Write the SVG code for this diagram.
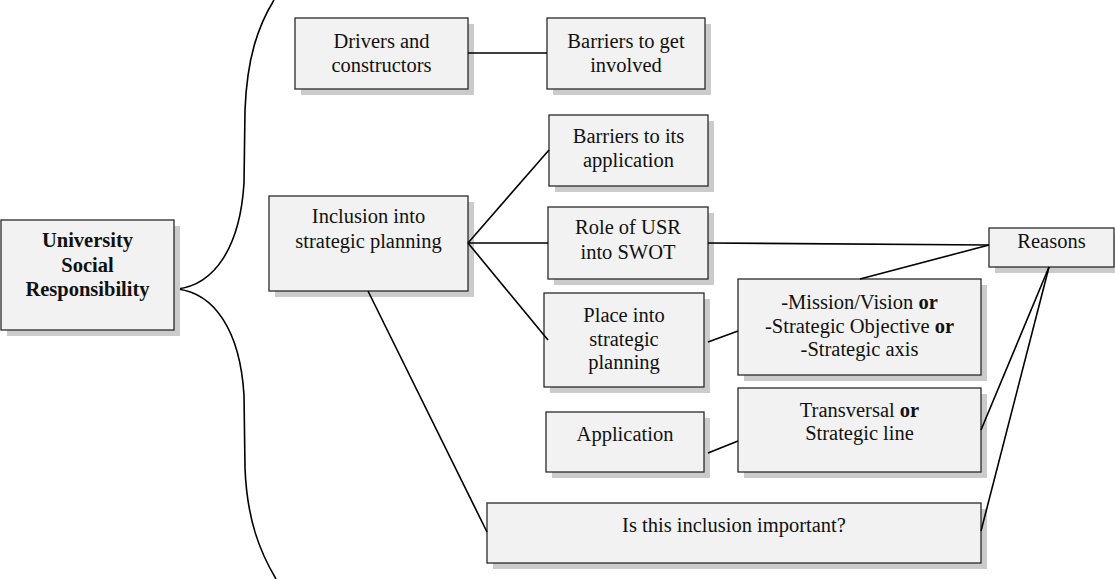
<svg xmlns="http://www.w3.org/2000/svg" width="1115" height="579" viewBox="0 0 1115 579">
<style>
.sh{fill:#cbcbcb;stroke:none}
.bx{fill:#f2f2f2;stroke:#2a2a2a;stroke-width:1.3}
text{font-family:'Liberation Serif','Times New Roman',Times,'DejaVu Serif',serif;font-size:20.5px;fill:#111;text-anchor:middle}
.b{font-weight:bold}
.ln{stroke:#000;stroke-width:1.6;fill:none}
</style>
<rect width="1115" height="579" fill="#fff"/>
<g id="brace">
<path class="ln" d="M177,289 C214,293 240,330 244,395 L245,468 C247,520 260,552 276,579"/>
<path class="ln" d="M177,289 C214,285 240,248 244,183 L245,110 C247,58 258,26 274,0"/>
</g>
<g id="usr" font-family="Liberation Serif, serif">
<rect class="sh" x="7" y="226" width="173" height="110"/>
<rect class="bx" x="1" y="220" width="173" height="110"/>
<text class="b" x="87.5" y="247" font-family="Liberation Serif, serif">University</text>
<text class="b" x="87.5" y="272" font-family="Liberation Serif, serif">Social</text>
<text class="b" x="87.5" y="296" font-family="Liberation Serif, serif">Responsibility</text>
</g>
<g id="drivers">
<rect class="sh" x="301" y="24" width="173" height="71"/>
<rect class="bx" x="295" y="18" width="173" height="71"/>
<text x="381.5" y="47.5" font-family="Liberation Serif, serif">Drivers and</text>
<text x="381.5" y="71.5" font-family="Liberation Serif, serif">constructors</text>
</g>
<g id="barriers-involved">
<rect class="sh" x="553" y="24" width="158" height="71"/>
<rect class="bx" x="547" y="18" width="158" height="71"/>
<text x="626" y="47.5" font-family="Liberation Serif, serif">Barriers to get</text>
<text x="626" y="71.5" font-family="Liberation Serif, serif">involved</text>
</g>
<g id="barriers-application">
<rect class="sh" x="555" y="121" width="159" height="71"/>
<rect class="bx" x="549" y="115" width="159" height="71"/>
<text x="628.5" y="143" font-family="Liberation Serif, serif">Barriers to its</text>
<text x="628.5" y="167" font-family="Liberation Serif, serif">application</text>
</g>
<g id="inclusion">
<rect class="sh" x="275" y="202" width="199" height="95"/>
<rect class="bx" x="269" y="196" width="199" height="95"/>
<text x="368.5" y="223" font-family="Liberation Serif, serif">Inclusion into</text>
<text x="368.5" y="248" font-family="Liberation Serif, serif">strategic planning</text>
</g>
<g id="role">
<rect class="sh" x="554" y="213" width="160" height="72"/>
<rect class="bx" x="548" y="207" width="160" height="72"/>
<text x="628" y="234" font-family="Liberation Serif, serif">Role of USR</text>
<text x="628" y="259" font-family="Liberation Serif, serif">into SWOT</text>
</g>
<g id="place">
<rect class="sh" x="550" y="299" width="160" height="94"/>
<rect class="bx" x="544" y="293" width="160" height="94"/>
<text x="624" y="322" font-family="Liberation Serif, serif">Place into</text>
<text x="624" y="345.5" font-family="Liberation Serif, serif">strategic</text>
<text x="624" y="369" font-family="Liberation Serif, serif">planning</text>
</g>
<g id="application">
<rect class="sh" x="552" y="418" width="158" height="60"/>
<rect class="bx" x="546" y="412" width="158" height="60"/>
<text x="625" y="441" font-family="Liberation Serif, serif">Application</text>
</g>
<g id="mission">
<rect class="sh" x="744" y="285" width="243" height="96"/>
<rect class="bx" x="738" y="279" width="243" height="96"/>
<text x="859.5" y="309" font-family="Liberation Serif, serif">-Mission/Vision <tspan class="b">or</tspan></text>
<text x="859.5" y="332.5" font-family="Liberation Serif, serif">-Strategic Objective <tspan class="b">or</tspan></text>
<text x="859.5" y="356" font-family="Liberation Serif, serif">-Strategic axis</text>
</g>
<g id="transversal">
<rect class="sh" x="744" y="394" width="243" height="84"/>
<rect class="bx" x="738" y="388" width="243" height="84"/>
<text x="859.5" y="417" font-family="Liberation Serif, serif">Transversal <tspan class="b">or</tspan></text>
<text x="859.5" y="440" font-family="Liberation Serif, serif">Strategic line</text>
</g>
<g id="reasons">
<rect class="sh" x="995" y="234" width="125" height="39"/>
<rect class="bx" x="989" y="228" width="125" height="39"/>
<text x="1051.5" y="248" font-family="Liberation Serif, serif">Reasons</text>
</g>
<g id="important">
<rect class="sh" x="493" y="509" width="494" height="60"/>
<rect class="bx" x="487" y="503" width="494" height="60"/>
<text x="734" y="532" font-family="Liberation Serif, serif">Is this inclusion important?</text>
</g>
<g id="connectors">
<line class="ln" x1="468" y1="53" x2="547" y2="53"/>
<line class="ln" x1="468" y1="243" x2="549" y2="150"/>
<line class="ln" x1="468" y1="243" x2="548" y2="243"/>
<line class="ln" x1="468" y1="243" x2="548" y2="340"/>
<line class="ln" x1="708" y1="243" x2="989" y2="245"/>
<line class="ln" x1="860" y1="279" x2="989" y2="245"/>
<line class="ln" x1="708" y1="342" x2="738" y2="331"/>
<line class="ln" x1="708" y1="453" x2="738" y2="441"/>
<line class="ln" x1="981" y1="430" x2="1049" y2="267"/>
<line class="ln" x1="981" y1="531" x2="1049" y2="267"/>
<line class="ln" x1="368" y1="291" x2="487" y2="532"/>
</g>
</svg>
